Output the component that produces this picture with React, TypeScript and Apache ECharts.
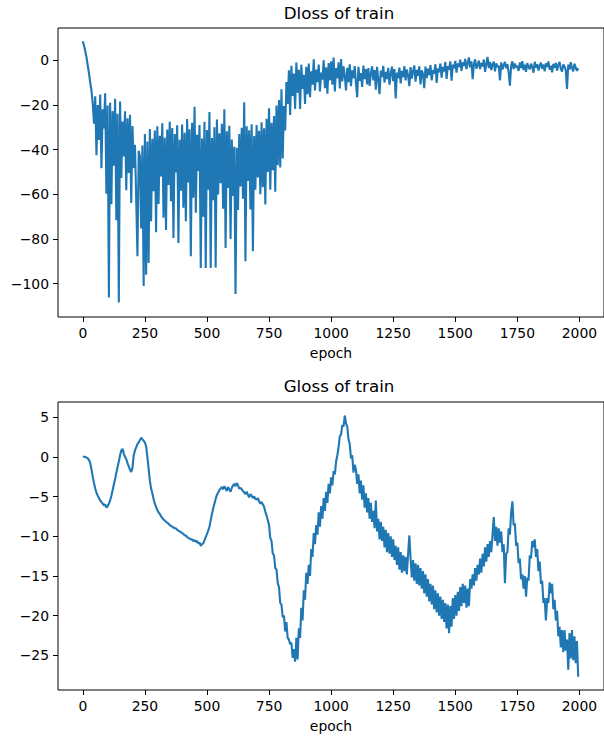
import React, { useEffect, useRef } from "react";
import * as echarts from "echarts";

const EPOCH_STEP = 5;

// Dloss of train, one value every 5 epochs (0..1995)
const dlossValues: number[] = [
  8.5, 6.5, 4.0, 1.2, -2.5, -6.0, -10.1, -13.8, -19.5, -28.4,
  -16.2, -42.5, -20.1, -35.7, -15.4, -48.3, -22.0, -30.5, -14.8, -59.8,
  -20.3, -106.2, -19.1, -64.5, -22.8, -47.2, -17.3, -71.6, -24.0, -108.4,
  -18.5, -52.7, -27.4, -43.1, -22.9, -58.2, -26.0, -50.5, -24.4, -63.9,
  -29.5, -48.2, -37.8, -62.0, -87.7, -40.5, -43.0, -75.3, -38.2, -101.0,
  -33.0, -96.0, -36.4, -90.7, -30.8, -72.1, -35.2, -58.6, -31.5, -77.0,
  -29.6, -64.3, -33.8, -52.0, -28.2, -70.5, -34.7, -76.0, -31.0, -55.8,
  -27.5, -63.1, -30.3, -79.6, -33.0, -50.2, -29.1, -81.8, -35.6, -58.4,
  -28.8, -66.0, -32.5, -72.0, -26.3, -54.7, -30.9, -87.7, -28.0, -61.5,
  -20.8, -68.2, -33.4, -49.6, -29.0, -93.0, -35.0, -70.0, -27.5, -93.0,
  -31.2, -58.0, -23.2, -93.0, -34.8, -62.7, -30.0, -92.8, -26.5, -60.1,
  -32.7, -55.0, -28.4, -66.5, -22.0, -84.0, -31.8, -57.2, -29.3, -80.0,
  -35.5, -60.8, -38.7, -104.6, -39.2, -67.0, -33.0, -56.5, -30.2, -62.0,
  -18.8, -90.0, -29.6, -54.0, -31.4, -66.8, -28.7, -85.5, -33.9, -58.0,
  -29.0, -52.5, -31.6, -60.0, -27.8, -56.8, -30.5, -64.6, -26.2, -50.0,
  -21.5, -58.0, -28.0, -49.2, -25.0, -58.8, -20.3, -47.0, -17.8, -48.0,
  -13.0, -44.0, -20.5, -31.4, -9.8, -19.6, -4.5, -24.5, -2.5, -16.0,
  -6.0, -21.8, -1.0, -14.5, -4.3, -21.8, -2.0, -12.8, -6.5, -19.6,
  -3.0, -15.2, -1.5, -16.6, -5.0, -11.0, 0.4, -13.5, -4.2, -9.8,
  -2.0, -14.0, -5.5, -8.7, 0.0, -12.5, -3.2, -15.0, -1.3, -9.0,
  -0.5, -11.0, 1.2, -14.0, -3.5, -8.0, -1.0, -12.6, 0.5, -9.5,
  -2.8, -7.0, -13.5, -3.4, -9.8, -1.8, -11.6, -4.5, -8.0, -2.6,
  -10.5, -16.6, -3.0, -9.2, -5.8, -12.0, -2.4, -8.5, -4.0, -10.8,
  -3.5, -11.5, -6.0, -2.8, -9.0, -4.4, -13.2, -3.0, -8.8, -15.2,
  -4.6, -7.5, -2.5, -10.0, -5.2, -8.4, -3.4, -11.0, -6.1, -2.9,
  -9.4, -4.0, -17.1, -5.5, -8.0, -3.3, -10.4, -4.8, -7.6, -2.7,
  -9.0, -4.2, -6.8, -11.6, -3.1, -8.2, -5.0, -2.4, -9.6, -4.3,
  -7.0, -2.8, -10.8, -4.6, -6.2, -12.5, -2.9, -8.0, -3.8, -6.6,
  -2.2, -9.0, -4.5, -6.0, -1.8, -10.2, -3.6, -5.4, -1.5, -7.8,
  -3.0, -5.0, -0.8, -8.4, -2.6, -4.2, -0.5, -9.2, -2.0, -3.6,
  -0.3, -5.6, -1.4, -3.0, 0.2, -4.8, -1.0, -2.6, 0.6, -4.0,
  -1.5, 1.2, -3.2, -0.5, -8.5, -1.8, 0.4, -3.8, -2.2, -0.2,
  -4.0, -1.2, -2.8, 0.3, -5.2, -1.9, 1.5, -3.5, -0.8, -4.4,
  -2.0, -0.6, -5.0, -1.4, -3.0, -2.5, -9.0, -1.0, -4.2, -2.2,
  -0.8, -3.6, -1.8, -5.5, -11.4, -2.4, -0.5, -4.0, -1.5, -3.2,
  -2.6, -4.8, -1.0, -3.5, -0.4, -4.4, -2.0, -5.2, -1.3, -3.0,
  -4.1, -1.6, -2.9, -5.6, -0.7, -3.3, -1.8, -4.6, -2.4, -1.1,
  -3.8, -2.0, -5.0, -1.4, -3.1, -0.6, -4.2, -2.5, -5.4, -1.7,
  -3.4, -1.2, -4.6, -2.2, -0.8, -3.9, -5.1, -1.9, -2.8, -4.5,
  -12.9, -2.0, -4.2, -0.9, -3.5, -5.0, -1.6, -3.2, -4.8, -3.6,
];

// Gloss of train, one value every 5 epochs (0..1995)
const glossValues: number[] = [
  0.0, 0.0, 0.0, -0.1, -0.2, -0.4, -0.8, -1.6, -2.5, -3.3,
  -4.0, -4.5, -4.9, -5.2, -5.5, -5.7, -5.9, -6.1, -6.0, -6.4,
  -6.2, -5.9, -5.5, -4.9, -4.2, -3.5, -2.8, -2.0, -1.3, -0.6,
  0.2, 0.8, 1.0, 0.4, 0.0, -0.3, -0.8, -1.2, -1.6, -1.9,
  -1.4, 0.2, 0.8, 1.2, 1.6, 1.8, 2.1, 2.4, 2.2, 2.0,
  1.8, 1.3, 0.0, -1.5, -3.0, -4.0, -4.6, -5.3, -5.9, -6.3,
  -6.7, -7.0, -7.2, -7.5, -7.7, -7.9, -8.0, -8.2, -8.3, -8.4,
  -8.6, -8.7, -8.8, -8.9, -9.0, -9.0, -9.2, -9.3, -9.4, -9.5,
  -9.6, -9.7, -9.9, -9.9, -10.1, -10.2, -10.3, -10.4, -10.4, -10.6,
  -10.5, -10.7, -10.6, -10.9, -10.8, -11.2, -11.0, -10.9, -10.5, -10.1,
  -9.7, -9.3, -8.8, -8.0, -7.2, -6.5, -5.9, -5.3, -4.8, -4.5,
  -4.2, -4.0, -3.8, -4.1, -3.7, -4.0, -4.3, -3.8, -4.1, -4.4,
  -3.9, -3.6, -3.4, -3.7, -3.3, -3.6, -4.0, -3.9, -4.1, -4.3,
  -4.5, -4.7, -4.4, -4.8, -5.1, -4.7, -4.9, -5.2, -5.0, -5.3,
  -5.4, -5.2, -5.6, -5.9, -5.7, -6.0, -6.3, -6.9, -7.4, -8.0,
  -8.6, -10.2, -10.6, -12.2, -12.4, -14.0, -14.2, -15.9, -16.4, -18.4,
  -18.6, -20.2, -20.0, -22.0, -20.8, -22.8, -23.0, -23.6, -23.4, -25.3,
  -24.2, -25.8, -22.8, -25.5, -21.6, -22.8, -19.0, -20.6, -16.8, -18.0,
  -14.6, -16.0, -13.6, -15.0, -11.6, -12.6, -9.6, -11.0, -8.6, -9.8,
  -7.0, -8.8, -6.2, -7.8, -5.2, -6.8, -4.4, -5.8, -3.4, -4.6,
  -2.6, -3.6, -1.8, -2.2, -0.6, 0.2, 1.2, 2.6, 2.8, 4.0,
  3.8, 5.2, 4.2, 3.8, 2.2, 1.6, -0.2, 0.2, -2.0, -1.0,
  -1.6, -3.4, -2.2, -4.6, -3.0, -5.4, -3.6, -6.4, -4.6, -7.0,
  -5.2, -7.8, -5.8, -8.2, -6.8, -9.0, -5.5, -9.4, -7.8, -10.4,
  -8.2, -10.6, -8.8, -11.4, -9.2, -12.0, -9.6, -12.2, -10.0, -12.6,
  -10.4, -13.0, -11.2, -13.6, -11.4, -14.2, -12.0, -14.6, -12.4, -14.4,
  -12.6, -14.8, -12.2, -9.9, -12.8, -15.2, -13.0, -15.6, -13.4, -16.0,
  -13.6, -16.2, -14.0, -16.6, -14.4, -17.2, -14.8, -17.6, -15.4, -18.2,
  -16.0, -18.6, -16.2, -19.2, -16.8, -19.6, -17.2, -20.0, -17.6, -20.4,
  -18.0, -20.8, -18.4, -21.6, -18.6, -22.2, -18.8, -21.4, -17.8, -20.4,
  -17.4, -20.0, -17.0, -19.4, -16.4, -18.8, -16.0, -18.4, -16.2, -19.0,
  -16.6, -18.8, -15.4, -16.6, -14.8, -16.2, -14.0, -15.6, -13.6, -14.8,
  -12.8, -14.6, -12.2, -13.8, -11.4, -13.2, -11.0, -12.6, -10.6, -12.0,
  -9.8, -7.6, -10.6, -8.8, -11.2, -9.0, -10.8, -9.4, -12.0, -11.0,
  -15.9, -12.2, -12.0, -9.0, -9.8, -7.0, -5.6, -8.6, -8.4, -11.2,
  -10.8, -13.4, -12.8, -15.4, -14.8, -16.6, -15.0, -17.6, -15.2, -15.6,
  -12.4, -12.8, -10.6, -11.4, -10.4, -12.6, -11.6, -14.4, -13.2, -16.0,
  -15.6, -18.4, -17.8, -20.6, -17.8, -18.4, -15.8, -17.2, -16.0, -19.2,
  -18.0, -20.6, -19.4, -22.6, -21.4, -24.0, -21.8, -24.6, -21.8, -24.4,
  -23.0, -26.8, -22.2, -25.4, -21.8, -25.6, -22.6, -26.0, -23.2, -27.7,
];

const xTicks = [0, 250, 500, 750, 1000, 1250, 1500, 1750, 2000];
const dlossTicks = [-100, -80, -60, -40, -20, 0];
const glossTicks = [-25, -20, -15, -10, -5, 0, 5];
const titles = ["Dloss of train", "Gloss of train"];
const xName = "epoch";

const FONT = "DejaVu Sans";
const LINE_COLOR = "#1f77b4";

const fmt = (v: number) => (v < 0 ? "\u2212" + Math.abs(v) : String(v));

export default function App() {
  const ref = useRef<HTMLDivElement>(null);
  useEffect(() => {
    if (!ref.current) return;
    const chart = echarts.init(ref.current, undefined, { renderer: "svg" });
    const dData = dlossValues.map((v, i) => [i * EPOCH_STEP, v]);
    const gData = glossValues.map((v, i) => [i * EPOCH_STEP, v]);

    const makeX = (gridIndex: number) => ({
      type: "value",
      gridIndex,
      position: "bottom",
      min: -99.95,
      max: 2098.95,
      name: xName,
      nameLocation: "middle",
      nameGap: 29,
      nameTextStyle: { fontFamily: FONT, fontSize: 13.9, color: "#000" },
      axisLine: { show: false, onZero: false },
      axisTick: {
        show: true,
        length: 5,
        inside: false,
        customValues: xTicks,
        lineStyle: { color: "#000", width: 1 },
      },
      axisLabel: {
        customValues: xTicks,
        formatter: fmt,
        margin: 9,
        fontFamily: FONT,
        fontSize: 13.9,
        color: "#000",
      },
      splitLine: { show: false },
    });
    const makeY = (gridIndex: number, min: number, max: number, ticks: number[]) => ({
      type: "value",
      gridIndex,
      position: "left",
      min,
      max,
      axisLine: { show: false, onZero: false },
      axisTick: {
        show: true,
        length: 5,
        inside: false,
        customValues: ticks,
        lineStyle: { color: "#000", width: 1 },
      },
      axisLabel: {
        customValues: ticks,
        formatter: fmt,
        margin: 9,
        fontFamily: FONT,
        fontSize: 13.9,
        color: "#000",
      },
      splitLine: { show: false },
    });

    chart.setOption({
      animation: false,
      backgroundColor: "#fff",
      title: [
        {
          text: titles[0],
          left: 334,
          top: -1,
          textAlign: "center",
          textStyle: { fontFamily: FONT, fontSize: 16.7, fontWeight: "normal", color: "#000" },
        },
        {
          text: titles[1],
          left: 334,
          top: 372,
          textAlign: "center",
          textStyle: { fontFamily: FONT, fontSize: 16.7, fontWeight: "normal", color: "#000" },
        },
      ],
      grid: [
        { left: 58, top: 28, width: 552, height: 289, show: true, borderColor: "#000", borderWidth: 1, backgroundColor: "transparent" },
        { left: 58, top: 402, width: 552, height: 288, show: true, borderColor: "#000", borderWidth: 1, backgroundColor: "transparent" },
      ],
      xAxis: [makeX(0), makeX(1)],
      yAxis: [makeY(0, -114.9, 14.4, dlossTicks), makeY(1, -29.36, 6.9, glossTicks)],
      series: [
        {
          type: "line",
          xAxisIndex: 0,
          yAxisIndex: 0,
          data: dData,
          showSymbol: false,
          lineStyle: { color: LINE_COLOR, width: 2.1 },
          itemStyle: { color: LINE_COLOR },
        },
        {
          type: "line",
          xAxisIndex: 1,
          yAxisIndex: 1,
          data: gData,
          showSymbol: false,
          lineStyle: { color: LINE_COLOR, width: 2.1 },
          itemStyle: { color: LINE_COLOR },
        },
      ],
    });
    return () => chart.dispose();
  }, []);
  return (
    <div
      ref={ref}
      style={{ position: "absolute", left: 0, top: 0, width: 604, height: 738 }}
    />
  );
}
